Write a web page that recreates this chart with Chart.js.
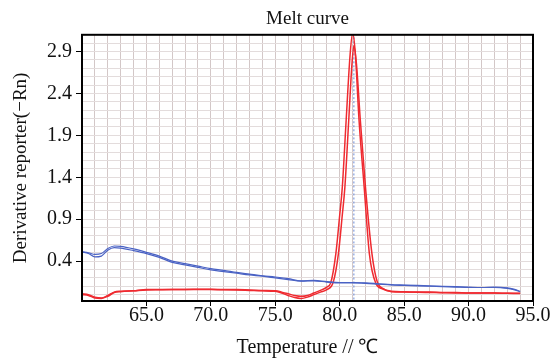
<!DOCTYPE html>
<html>
<head>
<meta charset="utf-8">
<script src="https://cdn.jsdelivr.net/npm/chart.js@4"></script>
<style>
    html, body { margin: 0; padding: 0; background: #ffffff; }
    #box { width: 551px; height: 358px; }
</style>
</head>
<body>
<div id="box"><canvas id="chart"></canvas></div>
<script>
// ===============================
// Dati della curva di melting
// ===============================

// Temperature (asse X) delle due curve blu
const blueTemp = [60, 60.5, 61, 61.5, 62, 62.5, 63, 64, 65, 66, 67, 68, 69, 70, 71, 72, 73, 74, 75, 76, 77, 78, 79,
    80, 81, 82, 83, 84, 85, 86, 87, 88, 89, 90, 91, 92, 93, 93.5, 94];
const blueA = [0.51, 0.50, 0.48, 0.49, 0.55, 0.58, 0.575, 0.545, 0.505, 0.46, 0.40, 0.37, 0.34, 0.31, 0.29, 0.265,
    0.245, 0.225, 0.21, 0.19, 0.165, 0.17, 0.155, 0.145, 0.145, 0.14, 0.13, 0.12, 0.115, 0.11, 0.105, 0.10, 0.095,
    0.09, 0.085, 0.09, 0.08, 0.065, 0.04];
const blueB = [0.51, 0.49, 0.45, 0.46, 0.53, 0.56, 0.555, 0.525, 0.49, 0.445, 0.385, 0.355, 0.325, 0.295, 0.275,
    0.255, 0.235, 0.22, 0.20, 0.18, 0.16, 0.165, 0.15, 0.14, 0.14, 0.135, 0.125, 0.115, 0.11, 0.105, 0.10, 0.095,
    0.09, 0.085, 0.085, 0.085, 0.075, 0.06, 0.035];

// Curve rosse (due repliche con picco vicino a 81 °C)
const redATemp = [60, 60.5, 61, 61.5, 62, 62.5, 63, 64, 65, 66, 67, 68, 69, 70, 71, 72, 73, 74, 75, 75.5, 76, 76.5,
    77, 77.5, 78, 78.5, 79, 79.3, 79.7, 80.0, 80.2, 80.5, 80.8, 81.0, 81.2, 81.5, 81.9, 82.3, 82.8, 83.3, 84, 85,
    86, 87, 88, 89, 90, 91, 92, 93, 94];
const redA = [0.01, 0.0, -0.03, -0.04, -0.01, 0.03, 0.04, 0.045, 0.06, 0.06, 0.06, 0.062, 0.063, 0.064, 0.06, 0.06,
    0.055, 0.05, 0.045, 0.03, 0.01, -0.01, -0.02, -0.01, 0.02, 0.05, 0.09, 0.14, 0.49, 0.95, 1.28, 2.08, 2.85, 3.12,
    2.9, 2.08, 1.28, 0.49, 0.135, 0.07, 0.04, 0.035, 0.03, 0.03, 0.025, 0.025, 0.02, 0.02, 0.02, 0.015, 0.015];
const redBTemp = [60, 60.5, 61, 61.5, 62, 62.5, 63, 64, 65, 66, 67, 68, 69, 70, 71, 72, 73, 74, 75, 75.5, 76, 76.5,
    77, 77.5, 78, 78.5, 79, 79.5, 79.9, 80.2, 80.4, 80.7, 80.95, 81.1, 81.3, 81.6, 82.0, 82.5, 82.9, 83.4, 84, 85,
    86, 87, 88, 89, 90, 91, 92, 93, 94];
const redB = [0.0, -0.01, -0.04, -0.045, -0.02, 0.025, 0.035, 0.045, 0.055, 0.058, 0.06, 0.06, 0.06, 0.06, 0.058,
    0.055, 0.05, 0.045, 0.04, 0.02, -0.01, -0.035, -0.045, -0.03, 0.0, 0.03, 0.06, 0.15, 0.49, 0.95, 1.28, 2.08,
    2.75, 2.97, 2.75, 2.08, 1.28, 0.49, 0.16, 0.07, 0.035, 0.03, 0.028, 0.025, 0.022, 0.02, 0.02, 0.018, 0.018,
    0.015, 0.012];

// Temperatura di melting (linea verticale tratteggiata)
const meltTemp = 81.1;

// Etichette degli assi
const xTickLabels = ["65.0", "70.0", "75.0", "80.0", "85.0", "90.0", "95.0"];
const yTickLabels = ["0.4", "0.9", "1.4", "1.9", "2.4", "2.9"];

// ===============================
// Funzioni di supporto
// ===============================

// Unisce temperature e valori in punti {x, y}
function points(temps, values) {
    return temps.map((t, i) => ({ x: t, y: values[i] }));
}

const serif = "'Liberation Serif', 'Times New Roman', serif";

// Bordo nero attorno all'area del grafico
const frame = {
    id: "frame",
    afterDraw(chart) {
        const a = chart.chartArea;
        const ctx = chart.ctx;
        ctx.save();
        ctx.strokeStyle = "#000000";
        ctx.lineWidth = 2;
        ctx.strokeRect(a.left, a.top, a.right - a.left, a.bottom - a.top);
        ctx.restore();
    }
};

// ===============================
// Creazione grafico con Chart.js
// ===============================

new Chart(document.getElementById("chart"), {
    type: "line",
    data: {
        datasets: [
            { data: points(blueTemp, blueA), borderColor: "#4a62c4", borderWidth: 1.2 },
            { data: points(blueTemp, blueB), borderColor: "#4a62c4", borderWidth: 1.2 },
            { data: points(redATemp, redA), borderColor: "#ef2a30", borderWidth: 1.5 },
            { data: points(redBTemp, redB), borderColor: "#ef2a30", borderWidth: 1.5 },
            {
                data: [{ x: meltTemp, y: -0.2 }, { x: meltTemp, y: 3.3 }],
                borderColor: "#6a8ad6", borderWidth: 1, borderDash: [2, 2], tension: 0
            }
        ]
    },
    options: {
        responsive: true,
        maintainAspectRatio: false,
        animation: false,
        layout: { padding: { right: 18 } },
        elements: {
            point: { radius: 0 },
            line: { cubicInterpolationMode: "monotone", fill: false }
        },
        plugins: {
            legend: { display: false },
            tooltip: { enabled: false },
            title: {
                display: true,
                text: "Melt curve",
                fullSize: false,
                color: "#111111",
                font: { family: serif, size: 19, weight: "normal" },
                padding: { top: 8, bottom: 4 }
            }
        },
        scales: {
            x: {
                type: "linear",
                min: 60,
                max: 95,
                afterBuildTicks(scale) {
                    const t = [];
                    for (let v = 60; v <= 95; v++) t.push({ value: v });
                    scale.ticks = t;
                },
                afterFit(scale) { scale.height = 57; },
                ticks: {
                    autoSkip: false,
                    maxRotation: 0,
                    padding: -2,
                    color: "#111111",
                    font: { family: serif, size: 20 },
                    callback: v => {
                        const s = Number(v).toFixed(1);
                        return xTickLabels.includes(s) ? s : "";
                    }
                },
                grid: {
                    color: "#d3c7c7",
                    lineWidth: 1,
                    tickLength: 5,
                    tickColor: c => (c.tick && xTickLabels.includes(Number(c.tick.value).toFixed(1))) ? "#000000" : "rgba(0,0,0,0)"
                },
                border: { color: "#000000", width: 2 },
                title: {
                    display: true,
                    text: "Temperature // ℃",
                    color: "#111111",
                    font: { family: serif, size: 20, lineHeight: 1.0 },
                    padding: { top: 0, bottom: 0 }
                }
            },
            y: {
                type: "linear",
                min: -0.076,
                max: 3.1,
                afterBuildTicks(scale) {
                    const t = [];
                    for (let i = 0; i <= 31; i++) t.push({ value: i / 10 });
                    scale.ticks = t;
                },
                afterFit(scale) { scale.width = 82; },
                ticks: {
                    autoSkip: false,
                    padding: 4,
                    color: "#111111",
                    font: { family: serif, size: 20 },
                    callback: v => {
                        const s = Number(v).toFixed(1);
                        return yTickLabels.includes(s) ? s : "";
                    }
                },
                grid: {
                    color: "#e3dcdc",
                    lineWidth: 1,
                    tickLength: 6,
                    tickColor: c => (c.tick && yTickLabels.includes(Number(c.tick.value).toFixed(1))) ? "#000000" : "rgba(0,0,0,0)"
                },
                border: { color: "#000000", width: 2 },
                title: {
                    display: true,
                    text: "Derivative reporter(−Rn)",
                    color: "#111111",
                    font: { family: serif, size: 19 },
                    padding: { top: 10, bottom: 0 }
                }
            }
        }
    },
    plugins: [frame]
});
</script>
</body>
</html>
